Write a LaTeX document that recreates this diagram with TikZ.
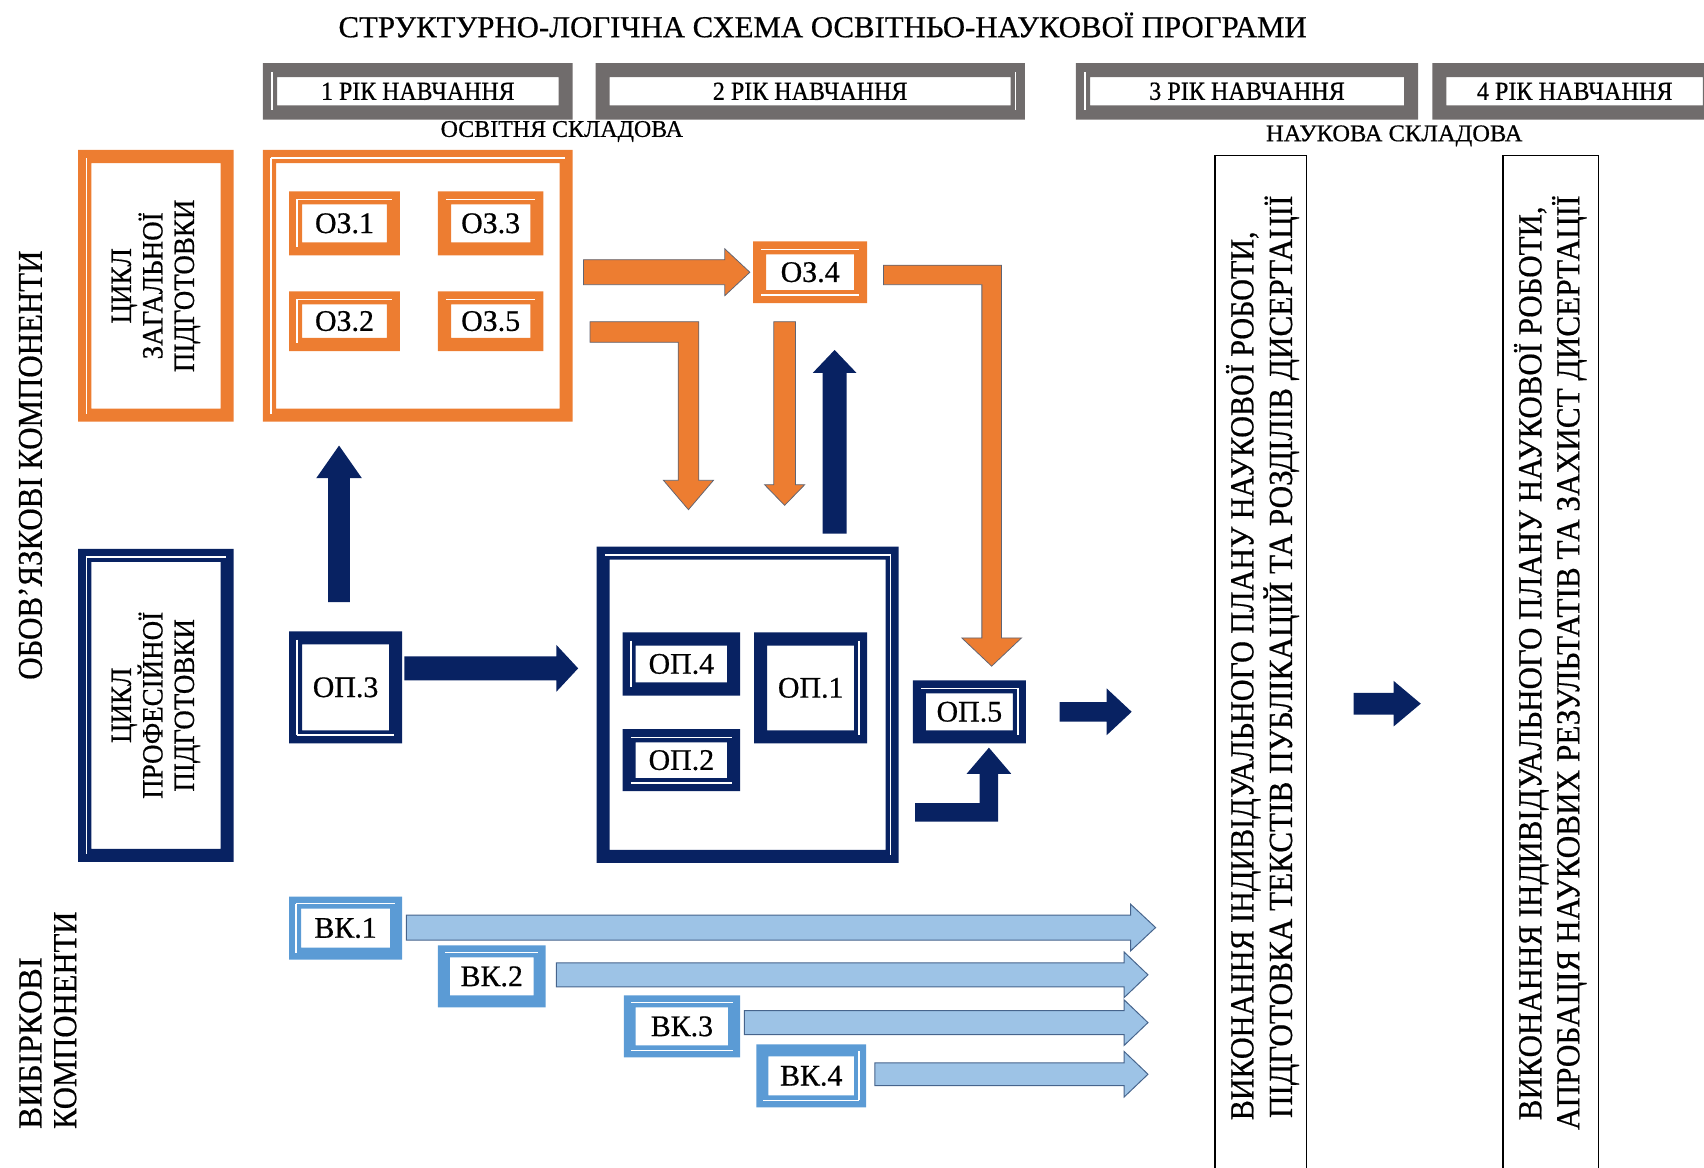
\documentclass[tikz,border=0pt]{standalone}
\usepackage{fontspec}
\setmainfont[FakeBold=0.6]{Liberation Serif}
\usepackage{graphicx}
\usetikzlibrary{calc}
\definecolor{orng}{RGB}{237,125,49}
\definecolor{navy}{RGB}{8,34,98}
\definecolor{gry}{RGB}{112,108,108}
\definecolor{lblue}{RGB}{91,155,213}
\definecolor{afill}{RGB}{157,195,230}
\definecolor{aedge}{RGB}{70,100,140}
\definecolor{oedge}{RGB}{95,100,115}

\newsavebox\fitbx
\newcommand\fitw[3]{\sbox\fitbx{\fontsize{#2}{#2}\selectfont #3}\pgfmathsetmacro\fitsx{#1/\the\wd\fitbx}\scalebox{\fitsx}[1]{\usebox\fitbx}}

\newcommand\wlo{4.5pt}
\tikzset{wlstyle/.style={white, line width=1.4pt}}
\pgfkeys{
 /wl/t/.code={\draw[wlstyle] ([shift={(-\wlo,\wlo)}]\curn.north west) -- ([shift={(\wlo,\wlo)}]\curn.north east);},
 /wl/b/.code={\draw[wlstyle] ([shift={(-\wlo,-\wlo)}]\curn.south west) -- ([shift={(\wlo,-\wlo)}]\curn.south east);},
 /wl/l/.code={\draw[wlstyle] ([shift={(-\wlo,\wlo)}]\curn.north west) -- ([shift={(-\wlo,-\wlo)}]\curn.south west);},
 /wl/r/.code={\draw[wlstyle] ([shift={(\wlo,\wlo)}]\curn.north east) -- ([shift={(\wlo,-\wlo)}]\curn.south east);},
}
% frame: node, colour, band, white-line sides
\newcommand\bxfrm[4]{%
 \fill[#2, even odd rule] ([shift={(-#3pt,-#3pt)}]#1.south west) rectangle ([shift={(#3pt,#3pt)}]#1.north east) (#1.south west) rectangle (#1.north east);
 \def\curn{#1}\pgfkeys{/wl/.cd,#4}%
}
% straight block arrow: [style]{from}{to}{shaft half}{head half}{head length}
\newcommand\blkarrow[6][]{%
 \path (#2); \pgfgetlastxy{\bax}{\bay}%
 \path (#3); \pgfgetlastxy{\bbx}{\bby}%
 \pgfmathsetmacro\bL{veclen(\bbx-(\bax),\bby-(\bay))}%
 \pgfmathsetmacro\bA{atan2(\bby-(\bay),\bbx-(\bax))}%
 \begin{scope}[shift={(\bax,\bay)}, rotate=\bA]
  \path[#1] (0pt,#4pt) -- ({\bL pt-#6pt},#4pt) -- ({\bL pt-#6pt},#5pt) -- (\bL pt,0pt) -- ({\bL pt-#6pt},-#5pt) -- ({\bL pt-#6pt},-#4pt) -- (0pt,-#4pt) -- cycle;
 \end{scope}
}
% elbow block arrow: horizontal from start, then vertical to tip
\newcommand\elbarrow[6][]{%
 \path (#2); \pgfgetlastxy{\eax}{\eay}%
 \path (#3); \pgfgetlastxy{\etx}{\ety}%
 \pgfmathsetmacro\ed{sign(\ety-(\eay))}%
 \path[#1] (\eax,{\eay-(\ed)*#4pt}) -- ({\etx+#4pt},{\eay-(\ed)*#4pt}) -- ({\etx+#4pt},{\ety-(\ed)*#6pt}) -- ({\etx+#5pt},{\ety-(\ed)*#6pt}) -- (\etx,\ety) -- ({\etx-#5pt},{\ety-(\ed)*#6pt}) -- ({\etx-#4pt},{\ety-(\ed)*#6pt}) -- ({\etx-#4pt},{\eay+(\ed)*#4pt}) -- (\eax,{\eay+(\ed)*#4pt}) -- cycle;
}

\begin{document}
\begin{tikzpicture}[x=1pt,y=-1pt,
  boxn/.style={inner sep=0pt, outer sep=0pt, text=black, font=\fontsize{27.5}{30}\selectfont},
  txt/.style={inner sep=0pt, text=black},
  oarr/.style={fill=orng, draw=oedge, line width=0.7pt},
  narr/.style={fill=navy, draw=none},
  barr/.style={fill=afill, draw=aedge, line width=0.9pt},
  scib/.style={draw=black, line width=1.3pt, inner sep=0pt, minimum height=950pt}]
\useasboundingbox (0,0) rectangle (1568,1074);
\clip (0,0) rectangle (1568,1074);

% title
\node[txt] (title) at (757,23) {\fitw{891}{28}{СТРУКТУРНО-ЛОГІЧНА СХЕМА ОСВІТНЬО-НАУКОВОЇ ПРОГРАМИ}};

% year boxes
\node[boxn, minimum width=259pt, minimum height=26pt] (y1) at (384.5,84) {\fitw{178}{24}{1 РІК НАВЧАННЯ}};
\bxfrm{y1}{gry}{13}{l}
\node[boxn, minimum width=369pt, minimum height=26pt] (y2) at (745.5,84) {\fitw{179}{24}{2 РІК НАВЧАННЯ}};
\bxfrm{y2}{gry}{13}{r}
\node[boxn, minimum width=289pt, minimum height=26pt] (y3) at (1147.5,84) {\fitw{180}{24}{3 РІК НАВЧАННЯ}};
\bxfrm{y3}{gry}{13}{l}
\node[boxn, minimum width=236pt, minimum height=26pt] (y4) at (1449,84) {\fitw{180}{24}{4 РІК НАВЧАННЯ}};
\bxfrm{y4}{gry}{13}{}

\node[txt] (osv) at (517,121) {\fitw{223}{22}{ОСВІТНЯ СКЛАДОВА}};
\node[txt] (nauk) at (1283,125) {\fitw{236}{22}{НАУКОВА СКЛАДОВА}};

% left labels
\node[txt, rotate=90] (oblab) at (28,428) {\fitw{395}{32}{ОБОВ’ЯЗКОВІ КОМПОНЕНТИ}};
\node[txt, rotate=90, anchor=west] (vib1) at (28,1039) {\fitw{158}{31}{ВИБІРКОВІ}};
\node[txt, rotate=90, anchor=west] (vib2) at (60,1039) {\fitw{200}{31}{КОМПОНЕНТИ}};

% cycle boxes
\node[boxn, minimum width=119pt, minimum height=226pt] (zag) at (143.5,263) {};
\bxfrm{zag}{orng}{12}{l}
\node[txt, rotate=90, align=center, font=\fontsize{27}{29}\selectfont] (zagt) at (zag.center) {\scalebox{0.92}[1]{ЦИКЛ}\\\scalebox{0.92}[1]{ЗАГАЛЬНОЇ}\\\scalebox{0.92}[1]{ПІДГОТОВКИ}};
\node[boxn, minimum width=119pt, minimum height=264pt] (prof) at (143.5,649) {};
\bxfrm{prof}{navy}{12}{t,l}
\node[txt, rotate=90, align=center, font=\fontsize{27}{29}\selectfont] (proft) at (prof.center) {\scalebox{0.92}[1]{ЦИКЛ}\\\scalebox{0.92}[1]{ПРОФЕСІЙНОЇ}\\\scalebox{0.92}[1]{ПІДГОТОВКИ}};

% orange group
\node[boxn, minimum width=261pt, minimum height=226pt] (ozbig) at (384.5,263) {};
\bxfrm{ozbig}{orng}{12}{t,l}
\node[boxn, minimum width=78pt, minimum height=35pt] (oz1) at (317,205.5) {ОЗ.1};
\bxfrm{oz1}{orng}{12}{t,l}
\node[boxn, minimum width=73pt, minimum height=35pt] (oz3) at (451.5,205.5) {ОЗ.3};
\bxfrm{oz3}{orng}{12}{t}
\node[boxn, minimum width=78pt, minimum height=31pt] (oz2) at (317,295.5) {ОЗ.2};
\bxfrm{oz2}{orng}{12}{t,l}
\node[boxn, minimum width=73pt, minimum height=31pt] (oz5) at (451.5,295.5) {ОЗ.5};
\bxfrm{oz5}{orng}{12}{t}
\node[boxn, minimum width=81pt, minimum height=33pt] (oz4) at (745.5,250.5) {ОЗ.4};
\bxfrm{oz4}{orng}{12}{t,b}

% navy group
\node[boxn, minimum width=80pt, minimum height=79pt] (op3) at (318,632.5) {ОП.3};
\bxfrm{op3}{navy}{12}{l,b}
\node[boxn, minimum width=254pt, minimum height=267pt] (opbig) at (688,648.5) {};
\bxfrm{opbig}{navy}{12}{t,r}
\node[boxn, minimum width=84pt, minimum height=34pt] (op4) at (627,611) {ОП.4};
\bxfrm{op4}{navy}{12}{l}
\node[boxn, minimum width=84pt, minimum height=33pt] (op2) at (627,699.5) {ОП.2};
\bxfrm{op2}{navy}{12}{t,b}
\node[boxn, minimum width=80pt, minimum height=78pt] (op1) at (746,633) {ОП.1};
\bxfrm{op1}{navy}{12}{r}
\node[boxn, minimum width=80pt, minimum height=34pt] (op5) at (892,655) {ОП.5};
\bxfrm{op5}{navy}{12}{t,r}

% elective boxes
\node[boxn, minimum width=82pt, minimum height=36pt] (vk1) at (318,854) {ВК.1};
\bxfrm{vk1}{lblue}{11}{t,l}
\node[boxn, minimum width=77pt, minimum height=35pt] (vk2) at (452.5,898.5) {ВК.2};
\bxfrm{vk2}{lblue}{11}{t}
\node[boxn, minimum width=85pt, minimum height=35pt] (vk3) at (627.5,944.5) {ВК.3};
\bxfrm{vk3}{lblue}{11}{t,b}
\node[boxn, minimum width=79pt, minimum height=36pt] (vk4) at (746.5,990) {ВК.4};
\bxfrm{vk4}{lblue}{11}{r,b}

% science boxes
\node[scib, minimum width=84pt] (s1) at (1160,618) {};
\node[scib, minimum width=88pt] (s2) at (1427,618) {};
\node[txt, rotate=90, anchor=west] (s1a) at (1144,1031) {\fitw{818}{31}{ВИКОНАННЯ ІНДИВІДУАЛЬНОГО ПЛАНУ НАУКОВОЇ РОБОТИ,}};
\node[txt, rotate=90, anchor=west] (s1b) at (1179,1029) {\fitw{849}{31}{ПІДГОТОВКА ТЕКСТІВ ПУБЛІКАЦІЙ ТА РОЗДІЛІВ ДИСЕРТАЦІЇ}};
\node[txt, rotate=90, anchor=west] (s2a) at (1409,1031) {\fitw{841}{31}{ВИКОНАННЯ ІНДИВІДУАЛЬНОГО ПЛАНУ НАУКОВОЇ РОБОТИ,}};
\node[txt, rotate=90, anchor=west] (s2b) at (1444,1040) {\fitw{860}{31}{АПРОБАЦІЯ НАУКОВИХ РЕЗУЛЬТАТІВ ТА ЗАХИСТ ДИСЕРТАЦІЇ}};

% connector end points
\coordinate (a1s) at ($(ozbig.east |- oz4.center)+(22pt,0pt)$);
\coordinate (a1e) at ($(oz4.west)+(-15pt,0pt)$);
\coordinate (a2s) at ($(ozbig.east)+(28pt,-42.5pt)$);
\coordinate (a2e) at ($(opbig.north west)+(72.5pt,46pt)$);
\coordinate (a3s) at ($(oz4.south)+(-23.5pt,-29pt)$);
\coordinate (a3e) at ($(opbig.north west)+(161pt,50pt)$);
\coordinate (a4s) at ($(opbig.north west)+(207pt,24pt)$);
\coordinate (a4e) at ($(oz4.south)+(22.5pt,-55pt)$);
\coordinate (a5s) at ($(oz4.east)+(27pt,-2.5pt)$);
\coordinate (a5e) at ($(op5.north)+(20.5pt,25pt)$);
\coordinate (a6s) at ($(op3.north)+(-6pt,39pt)$);
\coordinate (a6e) at ($(ozbig.south)+(-72.5pt,-34pt)$);
\coordinate (a7s) at ($(op3.east)+(14pt,17.5pt)$);
\coordinate (a7e) at ($(opbig.west)+(-29pt,33.5pt)$);
\coordinate (a8s) at ($(opbig.east)+(27pt,-99pt)$);
\coordinate (a8e) at ($(op5.south)+(18pt,-16pt)$);
\coordinate (a9s) at ($(op5.east)+(43pt,0pt)$);
\coordinate (a9e) at ($(s1.west |- op5.east)+(-76pt,0pt)$);
\coordinate (a10s) at ($(s1.east)+(43pt,-29.5pt)$);
\coordinate (a10e) at ($(s2.west)+(-75pt,-29.5pt)$);
\coordinate (b1s) at ($(vk1.east)+(15pt,0.5pt)$);
\coordinate (b1e) at ($(b1s -| s1.west)+(-54pt,0pt)$);
\coordinate (b2s) at ($(vk2.east)+(21pt,1.5pt)$);
\coordinate (b2e) at ($(b2s -| s1.west)+(-61pt,0pt)$);
\coordinate (b3s) at ($(vk3.east)+(15pt,3.5pt)$);
\coordinate (b3e) at ($(b3s -| s1.west)+(-61pt,0pt)$);
\coordinate (b4s) at ($(vk4.east)+(19pt,1.5pt)$);
\coordinate (b4e) at ($(b4s -| s1.west)+(-61pt,0pt)$);

% connectors
\blkarrow[oarr]{a1s}{a1e}{11.5}{21.5}{23}
\elbarrow[oarr]{a2s}{a2e}{9.5}{23}{27}
\blkarrow[oarr]{a3s}{a3e}{10}{18.5}{19}
\blkarrow[narr]{a4s}{a4e}{11}{20}{21}
\elbarrow[oarr]{a5s}{a5e}{9}{27.5}{26}
\blkarrow[narr]{a6s}{a6e}{10}{21}{30}
\blkarrow[narr]{a7s}{a7e}{11}{21.5}{20}
\elbarrow[narr]{a8s}{a8e}{8.5}{20.5}{24}
\blkarrow[narr]{a9s}{a9e}{9}{21.5}{23}
\blkarrow[narr]{a10s}{a10e}{10}{21}{25}
\blkarrow[barr]{b1s}{b1e}{11.5}{21.5}{23}
\blkarrow[barr]{b2s}{b2e}{11}{21}{22}
\blkarrow[barr]{b3s}{b3e}{11}{21}{22}
\blkarrow[barr]{b4s}{b4e}{10.5}{21}{22}
\end{tikzpicture}
\end{document}
